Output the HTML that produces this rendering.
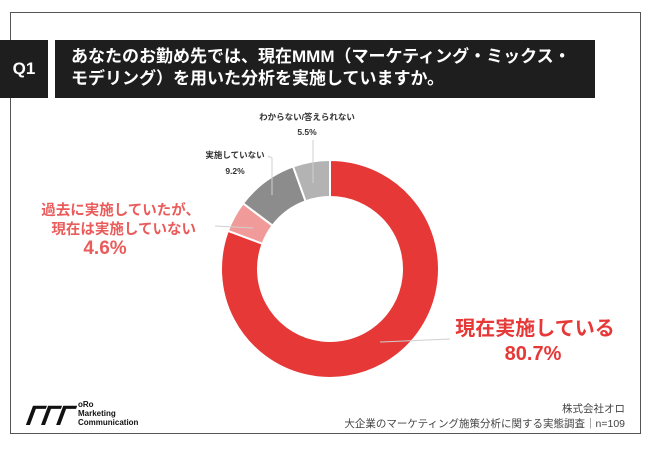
<!DOCTYPE html>
<html><head><meta charset="utf-8"><style>
body{margin:0;width:650px;height:451px;background:#fff;position:relative;overflow:hidden;font-family:"Liberation Sans","Noto Sans CJK JP",sans-serif}
.abs{position:absolute}
</style></head><body>
<div class="abs" style="left:10px;top:12px;width:631px;height:422px;border:1px solid #555;box-sizing:border-box"></div>
<div class="abs" style="left:0;top:40px;width:48px;height:58px;background:#1e1e1e;color:#fff;font-weight:bold;font-size:17px;display:flex;align-items:center;justify-content:center">Q1</div>
<div class="abs" style="left:55px;top:40px;width:540px;height:58px;background:#1e1e1e;color:#fff;font-weight:bold;font-size:17px;line-height:22px;padding:6px 0 0 16px;box-sizing:border-box">あなたのお勤め先では、現在MMM（マーケティング・ミックス・<br>モデリング）を用いた分析を実施していますか。</div>
<svg class="abs" style="left:0;top:0" width="650" height="451">
<g id="slices"></g>
<g id="labels"></g>
</svg>
<div class="abs" style="left:27px;top:400px;font-style:italic;font-weight:900;font-size:28px;letter-spacing:-2px;color:#111;transform:skewX(-10deg)">ΓΓΓ</div>
<div class="abs" style="left:78px;top:400px;font-size:8px;line-height:9px;font-weight:bold;color:#111">oRo<br>Marketing<br>Communication</div>
<div class="abs" style="right:25px;top:402px;font-size:10.5px;line-height:15px;color:#444;text-align:right">株式会社オロ<br>大企業のマーケティング施策分析に関する実態調査｜n=109</div>
<script>
const categories=["現在実施している","過去に実施していたが、現在は実施していない","実施していない","わからない/答えられない"];
const values=[80.7,4.6,9.2,5.5];
const valueLabels=["80.7%","4.6%","9.2%","5.5%"];
const colors=["#e53837","#f09b9a","#8c8c8c","#b3b3b3"];
const cx=330,cy=269,R=109,r=72;
const NS="http://www.w3.org/2000/svg";
const g=document.getElementById('slices');
const total=values.reduce((a,b)=>a+b,0);
function pt(a,rad){return [cx+rad*Math.sin(a),cy-rad*Math.cos(a)];}
let acc=0;
values.forEach((v,i)=>{
  const a0=acc/total*2*Math.PI;acc+=v;const a1=acc/total*2*Math.PI;
  const lg=(a1-a0)>Math.PI?1:0;
  const [x0,y0]=pt(a0,R),[x1,y1]=pt(a1,R),[x2,y2]=pt(a1,r),[x3,y3]=pt(a0,r);
  const p=document.createElementNS(NS,'path');
  p.setAttribute('d',`M${x0},${y0}A${R},${R} 0 ${lg} 1 ${x1},${y1}L${x2},${y2}A${r},${r} 0 ${lg} 0 ${x3},${y3}Z`);
  p.setAttribute('fill',colors[i]);p.setAttribute('stroke','#fff');p.setAttribute('stroke-width','2');
  
  
  g.appendChild(p);
});
const L=document.getElementById('labels');
function txt(x,y,s,size,fill,anchor,name){
  const t=document.createElementNS(NS,'text');
  t.setAttribute('x',x);t.setAttribute('y',y);t.setAttribute('font-size',size);t.setAttribute('fill',fill);
  t.setAttribute('font-weight','bold');t.setAttribute('text-anchor',anchor);t.textContent=s;
  
  
  L.appendChild(t);
}
function line(pts,name){
  const p=document.createElementNS(NS,'polyline');
  p.setAttribute('points',pts);p.setAttribute('fill','none');p.setAttribute('stroke','#cfcfcf');p.setAttribute('stroke-width','1');
  
  
  L.appendChild(p);
}
line("380,342 450,339","leader-0");
line("253,228 215,226","leader-1");
line("272,195 272,158 268,156","leader-2");
line("313,183 313,140","leader-3");
txt(535,335,categories[0],20,"#e53837","middle","label-current");
txt(533,360,valueLabels[0],20,"#e53837","middle","value-current");
txt(200,215,"過去に実施していたが、",14.5,"#e95c5b","end","label-past-1");
txt(196,234,"現在は実施していない",14.5,"#e95c5b","end","label-past-2");
txt(105,254,valueLabels[1],19,"#e95c5b","middle","value-past");
txt(235,158,categories[2],8.5,"#333","middle","label-not");
txt(235,174,valueLabels[2],8.5,"#333","middle","value-not");
txt(307,120,categories[3],8.5,"#333","middle","label-unknown");
txt(307,135,valueLabels[3],8.5,"#333","middle","value-unknown");
</script>
</body></html>
